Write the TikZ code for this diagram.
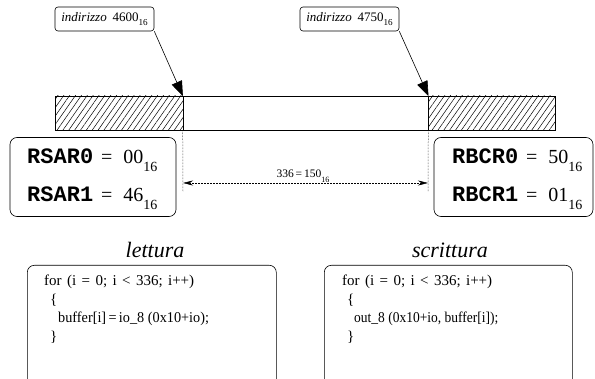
\documentclass[tikz,border=0pt]{standalone}
\usepackage{fontspec}
\usepackage{graphicx}
\setmainfont{Liberation Serif}
\setmonofont{Liberation Mono}
\usetikzlibrary{arrows.meta,patterns.meta}
% hexadecimal subscript, relative to the current font size
\newcommand\hx[1]{\raisebox{-0.8ex}{\scalebox{0.7}{#1}}}
% widened word gap for the loop headers
\newcommand\wgap{\hspace{0.36em}}
\tikzset{
  addrbox/.style={draw, rounded corners=3pt, line width=0.6pt, inner sep=0pt,
    minimum width=99pt, minimum height=24pt, font=\fontsize{13}{15}\selectfont},
  hatched/.style={draw, line width=0.6pt, inner sep=0pt,
    minimum height=34pt, pattern={Lines[angle=55,distance=4.8pt,line width=0.5pt]}},
  plainseg/.style={draw, line width=0.6pt, inner sep=0pt, minimum width=245pt,
    minimum height=34pt},
  pointer/.style={line width=0.6pt, -{Triangle[length=15pt,width=11pt]}, shorten >=-0.5pt},
  guide/.style={densely dotted, line width=0.5pt},
  dimline/.style={densely dotted, line width=0.5pt,
    {Stealth[length=10pt,width=5pt]}-{Stealth[length=10pt,width=5pt]}},
  regbox/.style={draw, rounded corners=7pt, line width=0.6pt, inner sep=0pt},
  regtxt/.style={anchor=base west, inner sep=0pt, font=\fontsize{20}{24}\selectfont},
  codebox/.style={draw, rounded corners=7pt, line width=0.6pt, inner sep=0pt},
  codetxt/.style={anchor=base west, inner sep=0pt, font=\fontsize{15}{18}\selectfont},
  title/.style={anchor=base, inner sep=0pt, font=\fontsize{22}{26}\selectfont\itshape},
}
\newcommand\reg[1]{{\ttfamily\bfseries\fontsize{22}{24}\selectfont #1}\hspace{8pt}=\hspace{11pt}}
\begin{document}
\begin{tikzpicture}[x=1pt,y=-1pt]
\useasboundingbox (0,0) rectangle (595,379);
\clip (0,0) rectangle (595,379);

% address labels
\node[addrbox] (lab1) at (104.5,19) {\textit{indirizzo}\hspace{0.45em}4600\hx{16}};
\node[addrbox] (lab2) at (349.5,19) {\textit{indirizzo}\hspace{0.45em}4750\hx{16}};

% memory strip
\node[hatched, minimum width=128pt] (segL) at (119,113)   {};
\node[plainseg] (segM) at (305.5,113) {};
\node[hatched, minimum width=127pt] (segR) at (491.5,113) {};

\draw[pointer] (lab1.south east) -- (segM.north west);
\draw[pointer] (lab2.south east) -- (segM.north east);

% extent of the transfer
\coordinate (gl) at (183,192);
\coordinate (gr) at (428,192);
\draw[guide] (segM.south west) -- (gl);
\draw[guide] (segM.south east) -- (gr);
\coordinate (dl) at (183,183);
\coordinate (dr) at (428,183);
\draw[dimline] (dr) -- (dl);
\node[anchor=base, inner sep=0pt, font=\fontsize{11.5}{13}\selectfont] (len) at (303,178)
  {336\,=\,150\hx{16}};

% register settings
\node[regbox, minimum width=166pt, minimum height=79pt] (rsar) at (93,177) {};
\node[regtxt] (rsar0) at (27,164) {\reg{RSAR0}00\hx{16}};
\node[regtxt] (rsar1) at (27,202) {\reg{RSAR1}46\hx{16}};
\node[regbox, minimum width=159pt, minimum height=79pt] (rbcr) at (513.5,177) {};
\node[regtxt] (rbcr0) at (452,164) {\reg{RBCR0}50\hx{16}};
\node[regtxt] (rbcr1) at (452,202) {\reg{RBCR1}01\hx{16}};

% reading loop
\node[title] (tread) at (155,258) {lettura};
\node[codebox, minimum width=249pt, minimum height=140pt, anchor=north west] (cread) at (27,265) {};
\node[codetxt] (r1) at (44,286) {for\wgap(i\wgap=\wgap0;\wgap i\wgap<\wgap336;\wgap i++)};
\node[codetxt] (r2) at (50,305) {\{};
\node[codetxt] (r3) at (58,323) {\scalebox{0.95}[1]{buffer[i]\,=\,io\_8 (0x10+io);}};
\node[codetxt] (r4) at (50,342) {\}};

% writing loop
\node[title] (twrite) at (450,258) {scrittura};
\node[codebox, minimum width=248pt, minimum height=140pt, anchor=north west] (cwrite) at (324,265) {};
\node[codetxt] (w1) at (342,286) {for\wgap(i\wgap=\wgap0;\wgap i\wgap<\wgap336;\wgap i++)};
\node[codetxt] (w2) at (347,305) {\{};
\node[codetxt] (w3) at (354,323) {\scalebox{0.9}[1]{out\_8 (0x10+io, buffer[i]);}};
\node[codetxt] (w4) at (347,342) {\}};
\end{tikzpicture}
\end{document}
